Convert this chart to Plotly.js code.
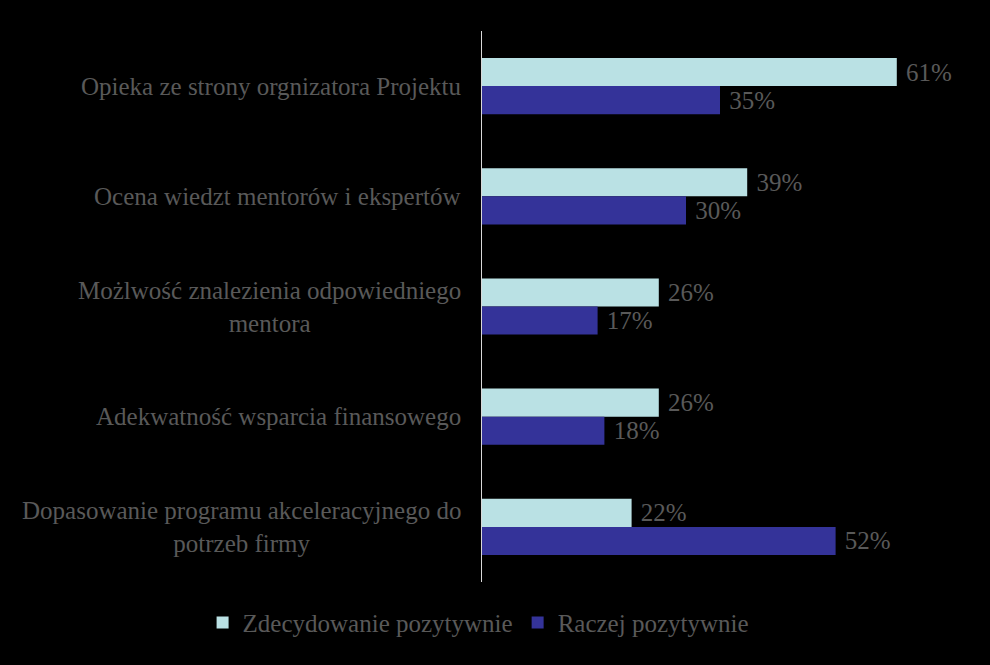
<!DOCTYPE html>
<html>
<head>
<meta charset="utf-8">
<script src="https://cdn.plot.ly/plotly-3.0.1.min.js"></script>
<style>html,body{margin:0;padding:0;background:#000;}</style>
</head>
<body>
<div id="chart" style="width:990px;height:665px;"></div>
<script>
const categories = [
  "Opieka ze strony orgnizatora Projektu",
  "Ocena wiedzt mentorów i ekspertów",
  "Możlwość znalezienia odpowiedniego<br>mentora",
  "Adekwatność wsparcia finansowego",
  "Dopasowanie programu akceleracyjnego do<br>potrzeb firmy"
];
const seriesNames = ["Zdecydowanie pozytywnie", "Raczej pozytywnie"];
const zdecydowanie = [61, 39, 26, 26, 22];
const raczej = [35, 30, 17, 18, 52];

const serif = "'Liberation Serif', 'Times New Roman', serif";
const textColor = "#595959";
const fs = 25;

const traces = [
  {type: "bar", orientation: "h", name: seriesNames[0], y: categories, x: zdecydowanie,
   marker: {color: "#BAE1E4"}, texttemplate: "\u00a0%{x}%", textposition: "outside",
   textfont: {family: serif, size: fs, color: textColor}, cliponaxis: false, hoverinfo: "none"},
  {type: "bar", orientation: "h", name: seriesNames[1], y: categories, x: raczej,
   marker: {color: "#343399"}, texttemplate: "\u00a0%{x}%", textposition: "outside",
   textfont: {family: serif, size: fs, color: textColor}, cliponaxis: false, hoverinfo: "none"}
];

const annotations = categories.map(c => ({
  xref: "paper", yref: "y", x: 0, y: c, text: c, showarrow: false,
  xanchor: "right", yanchor: "middle", align: "center", xshift: -19,
  font: {family: serif, size: fs, color: textColor}
}));

const layout = {
  width: 990, height: 665,
  paper_bgcolor: "#000", plot_bgcolor: "#000",
  margin: {l: 482, r: 32, t: 31, b: 83, autoexpand: false},
  barmode: "group", bargap: 0.49, bargroupgap: 0,
  showlegend: true,
  legend: {orientation: "h", x: -0.587, xanchor: "left",
           y: -0.032, yanchor: "top",
           font: {family: serif, size: fs, color: textColor}, bgcolor: "rgba(0,0,0,0)",
           itemclick: false, traceorder: "normal"},
  xaxis: {range: [0, 70], showgrid: false, zeroline: false, showticklabels: false, showline: false, ticks: ""},
  yaxis: {autorange: "reversed", showgrid: false, zeroline: false, showticklabels: false,
          showline: true, linecolor: "#D9D9D9", linewidth: 1, ticks: ""},
  annotations: annotations,
  font: {family: serif, color: textColor}
};

Plotly.newPlot("chart", traces, layout, {displayModeBar: false, staticPlot: true});
</script>
</body>
</html>
